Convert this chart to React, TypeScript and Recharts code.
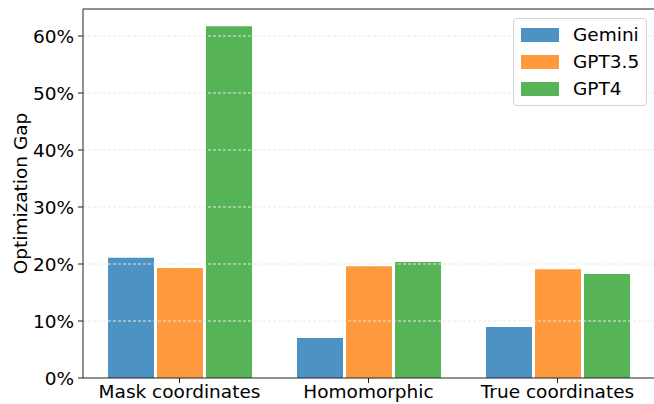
import React from 'react';
import { BarChart, Bar, XAxis, YAxis, ReferenceLine, Legend, Label } from 'recharts';

const categories = ['Mask coordinates', 'Homomorphic', 'True coordinates'];
const gemini = [21.1, 7.0, 8.95];
const gpt35 = [19.3, 19.6, 19.1];
const gpt4 = [61.7, 20.35, 18.25];
const yTicks = [0, 10, 20, 30, 40, 50, 60];
const gridTicks = [10, 20, 30, 40, 50, 60];
const Y_MAX = 64.74;

const seriesNames = ['Gemini', 'GPT3.5', 'GPT4'];
const seriesKeys = ['gemini', 'gpt35', 'gpt4'];
const colors = ['#4c92c3', '#ff993e', '#56b356'];

const data = categories.map((c, i) => ({
  category: c,
  gemini: gemini[i],
  gpt35: gpt35[i],
  gpt4: gpt4[i],
}));

const FONT = '"DejaVu Sans", sans-serif';
const FS = 18.5;
const TEXT = '#000';
const AXIS = '#222';

const LegendBox = () => (
  <div
    style={{
      position: 'relative',
      width: 134,
      height: 88,
      border: '1px solid #d4d4d4',
      borderRadius: 4,
      background: 'rgba(255,255,255,0.85)',
      boxSizing: 'border-box',
      fontFamily: FONT,
      fontSize: FS,
      color: TEXT,
    }}
  >
    {seriesNames.map((n, i) => (
      <div
        key={n}
        style={{
          position: 'absolute',
          left: 7,
          top: 6 + i * 27,
          height: 20,
          display: 'flex',
          alignItems: 'center',
        }}
      >
        <div style={{ width: 38, height: 14, background: colors[i] }} />
        <span style={{ marginLeft: 14, lineHeight: '20px' }}>{n}</span>
      </div>
    ))}
  </div>
);

export default function App() {
  return (
    <div style={{ position: 'absolute', left: 0, top: 0, width: 654, height: 404, background: '#fff' }}>
      <BarChart
        width={654}
        height={404}
        data={data}
        margin={{ top: 9, right: 0, left: 0, bottom: 0 }}
        barSize={46}
        barGap={3}
      >
        <XAxis
          dataKey="category"
          interval={0}
          height={26}
          padding={{ left: 2, right: 2 }}
          tickSize={5}
          tickMargin={2}
          tick={{ fill: TEXT, fontSize: FS, fontFamily: FONT }}
          tickLine={{ stroke: AXIS }}
          axisLine={{ stroke: AXIS }}
        />
        <YAxis
          width={83}
          domain={[0, Y_MAX]}
          ticks={yTicks}
          allowDataOverflow
          tickFormatter={(v: number) => `${v}%`}
          tickSize={5}
          tickMargin={4}
          tick={{ fill: TEXT, fontSize: FS, fontFamily: FONT }}
          tickLine={{ stroke: AXIS }}
          axisLine={{ stroke: AXIS }}
        >
          <Label
            content={(props: any) => {
              const vb = props.viewBox || { y: 9, height: 369 };
              const cy = vb.y + vb.height / 2;
              return (
                <text
                  x={20}
                  y={cy}
                  transform={`rotate(-90 20 ${cy})`}
                  textAnchor="middle"
                  dominantBaseline="central"
                  fill={TEXT}
                  fontSize={FS}
                  fontFamily={FONT}
                >
                  Optimization Gap
                </text>
              );
            }}
          />
        </YAxis>
        {seriesKeys.map((k, i) => (
          <Bar key={k} dataKey={k} name={seriesNames[i]} fill={colors[i]} isAnimationActive={false} />
        ))}
        {gridTicks.map((t) => (
          <ReferenceLine key={t} y={t} stroke="#e8e8e8" strokeDasharray="3 2" strokeWidth={1} />
        ))}
        <ReferenceLine y={Y_MAX} stroke={AXIS} strokeWidth={1} />
        <Legend
          layout="horizontal"
          verticalAlign="middle"
          align="center"
          wrapperStyle={{ left: 513, top: 18, width: 134, height: 88 }}
          content={() => <LegendBox />}
        />
      </BarChart>
    </div>
  );
}
